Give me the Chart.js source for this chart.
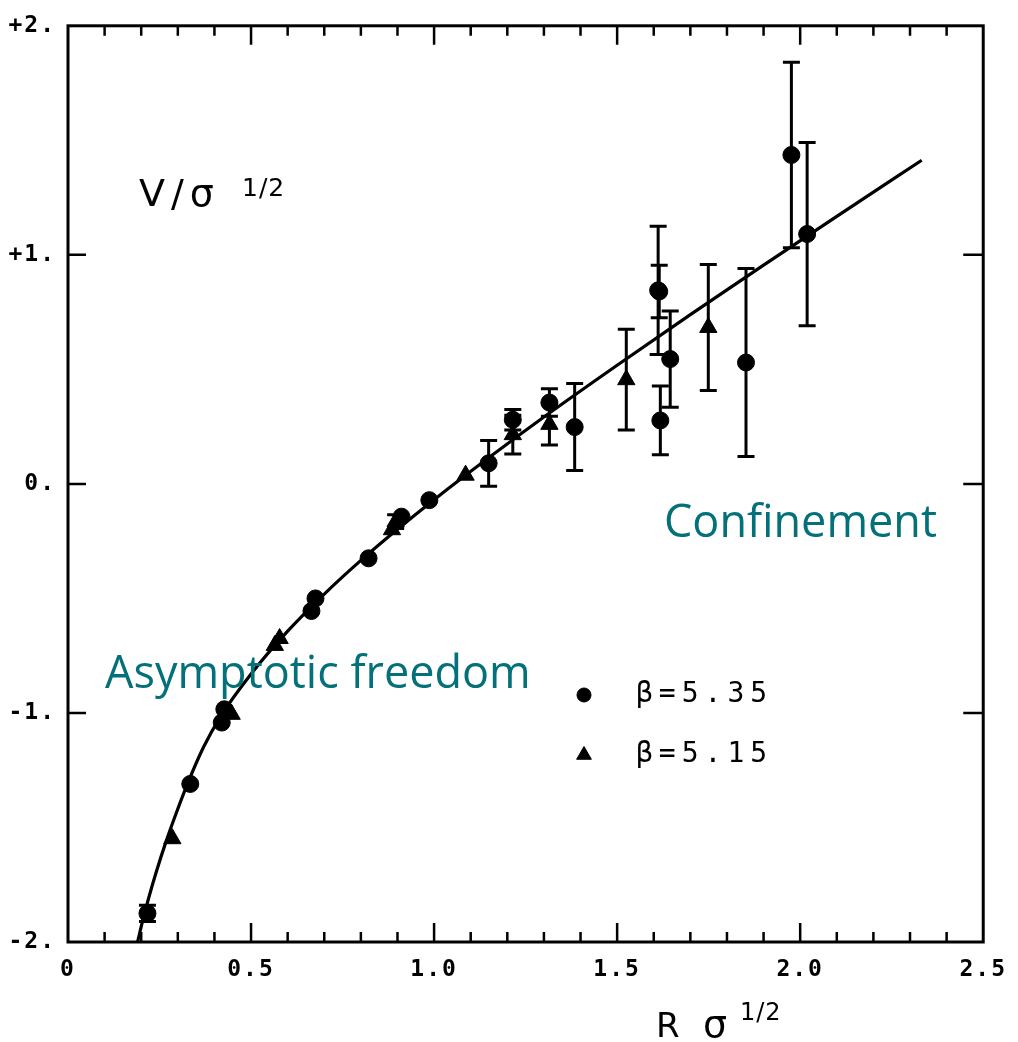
<!DOCTYPE html>
<html><head><meta charset="utf-8">
<script src="https://cdn.jsdelivr.net/npm/chart.js@4.4.1/dist/chart.umd.min.js"></script>
<style>html,body{margin:0;padding:0;background:#fff;overflow:hidden}canvas{display:block}</style>
</head><body>
<canvas id="c" width="1018" height="1042"></canvas>
<script>
// ---- data ----
const curveX = [0.19, 0.205, 0.22, 0.24, 0.267, 0.295, 0.325, 0.37, 0.415, 0.5, 0.6, 0.7, 0.8, 0.9, 1.0, 1.15, 1.3, 1.5, 1.7, 1.9, 2.1, 2.332];
const curveY = [-2.0, -1.90, -1.81, -1.70, -1.565, -1.44, -1.315, -1.15, -1.02, -0.83, -0.643, -0.481, -0.334, -0.198, -0.069, 0.115, 0.292, 0.518, 0.739, 0.955, 1.168, 1.413];

const beta535X   = [0.217, 0.334, 0.42, 0.427, 0.665, 0.676, 0.821, 0.911, 0.987, 1.149, 1.215, 1.315, 1.384, 1.612, 1.615, 1.618, 1.645, 1.852, 1.976, 2.019];
const beta535Y   = [-1.875, -1.31, -1.042, -0.984, -0.555, -0.50, -0.325, -0.143, -0.071, 0.09, 0.28, 0.355, 0.248, 0.845, 0.84, 0.277, 0.545, 0.53, 1.436, 1.091];
const beta535Err = [0.035, 0, 0, 0, 0, 0, 0, 0, 0, 0.10, 0.045, 0.06, 0.19, 0.28, 0.115, 0.15, 0.21, 0.41, 0.405, 0.40];

const beta515X   = [0.285, 0.447, 0.565, 0.578, 0.885, 0.895, 1.086, 1.215, 1.315, 1.525, 1.749];
const beta515Y   = [-1.549, -1.006, -0.705, -0.675, -0.20, -0.165, 0.038, 0.215, 0.26, 0.455, 0.683];
const beta515Err = [0, 0, 0, 0, 0, 0.03, 0, 0.085, 0.09, 0.22, 0.275];

const xTickValues = [0, 0.5, 1.0, 1.5, 2.0, 2.5];
const xTickLabels = ['0', '0.5', '1.0', '1.5', '2.0', '2.5'];
const yTickValues = [-2, -1, 0, 1, 2];
const yTickLabels = ['-2.', '-1.', '0.', '+1.', '+2.'];
const seriesLabels = ['\u03b2=5.35', '\u03b2=5.15'];

const toPts = (xs, ys) => xs.map((x, i) => ({x: x, y: ys[i]}));

// ---- plugins ----
const spacing = {
  id: 'spacing',
  beforeDraw(chart) { chart.ctx.letterSpacing = '2px'; },
  beforeDatasetsDraw(chart) { chart.ctx.letterSpacing = '0px'; }
};

const frame = {
  id: 'frame',
  beforeDatasetsDraw(chart) {
    const {ctx, chartArea: a, scales: {x, y}} = chart;
    ctx.save();
    ctx.strokeStyle = '#000';
    ctx.lineWidth = 3;
    ctx.lineCap = 'square';
    ctx.strokeRect(a.left, a.top, a.right - a.left, a.bottom - a.top);
    ctx.lineWidth = 2.5;
    ctx.lineCap = 'butt';
    ctx.beginPath();
    for (let k = 1; k < 25; k++) {
      const v = k / 10;
      const px = x.getPixelForValue(v);
      const len = (k % 5 === 0) ? 19 : 10;
      ctx.moveTo(px, a.bottom); ctx.lineTo(px, a.bottom - len);
      ctx.moveTo(px, a.top); ctx.lineTo(px, a.top + len);
    }
    for (let v = -1; v <= 1; v++) {
      const py = y.getPixelForValue(v);
      ctx.moveTo(a.left, py); ctx.lineTo(a.left + 18, py);
      ctx.moveTo(a.right, py); ctx.lineTo(a.right - 20, py);
    }
    ctx.stroke();
    ctx.restore();
  }
};

const errorBars = {
  id: 'errorBars',
  beforeDatasetsDraw(chart) {
    const {ctx, scales: {x, y}} = chart;
    ctx.save();
    ctx.strokeStyle = '#000';
    ctx.lineWidth = 3;
    chart.data.datasets.forEach(ds => {
      if (!ds.errors) return;
      ds.data.forEach((p, j) => {
        const e = ds.errors[j];
        if (!e) return;
        const px = x.getPixelForValue(p.x);
        const t = y.getPixelForValue(p.y + e);
        const b = y.getPixelForValue(p.y - e);
        ctx.beginPath();
        ctx.moveTo(px, t); ctx.lineTo(px, b);
        ctx.moveTo(px - 8.5, t); ctx.lineTo(px + 8.5, t);
        ctx.moveTo(px - 8.5, b); ctx.lineTo(px + 8.5, b);
        ctx.stroke();
      });
    });
    ctx.restore();
  }
};

const texts = {
  id: 'texts',
  afterDraw(chart) {
    const ctx = chart.ctx;
    ctx.save();
    ctx.fillStyle = '#000';
    ctx.textBaseline = 'alphabetic';
    ctx.textAlign = 'left';
    // y-axis title
    ctx.letterSpacing = '6px';
    ctx.font = '38px "DejaVu Sans"';
    ctx.fillText('V/\u03c3', 139, 206);
    ctx.letterSpacing = '1px';
    ctx.font = '25px "DejaVu Sans"';
    ctx.fillText('1/2', 242, 196);
    // x-axis title
    ctx.letterSpacing = '0px';
    ctx.font = '34px "DejaVu Sans"';
    ctx.fillText('R', 656, 1037);
    ctx.font = '38px "DejaVu Sans"';
    ctx.fillText('\u03c3', 703, 1037);
    ctx.letterSpacing = '1px';
    ctx.font = '24px "DejaVu Sans"';
    ctx.fillText('1/2', 740, 1020);
    // legend
    const items = [chart.data.datasets[1], chart.data.datasets[2]];
    const rows = [695, 755];
    items.forEach((ds, i) => {
      ctx.fillStyle = '#000';
      ctx.strokeStyle = '#000';
      Chart.helpers.drawPoint(ctx, {pointStyle: ds.pointStyle, radius: ds.pointStyle === 'triangle' ? 8.5 : 7, rotation: 0, borderWidth: 1}, 584, rows[i]);
    });
    ctx.fillStyle = '#000';
    ctx.letterSpacing = '6px';
    ctx.font = '28px "DejaVu Sans Mono"';
    ctx.textBaseline = 'middle';
    items.forEach((ds, i) => ctx.fillText(ds.label, 636, rows[i]));
    // annotations
    ctx.letterSpacing = '0px';
    ctx.textBaseline = 'alphabetic';
    ctx.fillStyle = '#04707a';
    ctx.font = '45px "Open Sans"';
    ctx.fillText('Asymptotic freedom', 105, 688);
    ctx.fillText('Confinement', 664, 537);
    ctx.restore();
  }
};

new Chart(document.getElementById('c'), {
  type: 'scatter',
  data: {
    datasets: [
      {
        label: 'fit',
        data: toPts(curveX, curveY),
        showLine: true,
        borderColor: '#000',
        borderWidth: 3.2,
        pointRadius: 0,
        cubicInterpolationMode: 'monotone',
        order: 10
      },
      {
        label: seriesLabels[0],
        data: toPts(beta535X, beta535Y),
        errors: beta535Err,
        pointStyle: 'circle',
        pointRadius: 8.5,
        pointBackgroundColor: '#000',
        pointBorderColor: '#000',
        pointBorderWidth: 1,
        order: 1
      },
      {
        label: seriesLabels[1],
        data: toPts(beta515X, beta515Y),
        errors: beta515Err,
        pointStyle: 'triangle',
        pointRadius: 10,
        pointBackgroundColor: '#000',
        pointBorderColor: '#000',
        pointBorderWidth: 1,
        order: 2
      }
    ]
  },
  options: {
    responsive: false,
    animation: false,
    devicePixelRatio: 1,
    layout: {padding: {top: 22, right: 26, left: 0, bottom: 0}},
    plugins: {legend: {display: false}, tooltip: {enabled: false}},
    scales: {
      x: {
        type: 'linear', min: 0, max: 2.5,
        afterFit(s) { s.height = 100; },
        afterBuildTicks(s) { s.ticks = xTickValues.map(v => ({value: v})); },
        ticks: {
          callback: (v, i) => xTickLabels[i],
          font: {family: 'DejaVu Sans Mono', weight: 'bold', size: 23},
          color: '#000', padding: 14, maxRotation: 0, autoSkip: false
        },
        grid: {display: false, drawTicks: false},
        border: {display: false}
      },
      y: {
        type: 'linear', min: -2, max: 2,
        afterFit(s) { s.width = 68; },
        afterBuildTicks(s) { s.ticks = yTickValues.map(v => ({value: v})); },
        ticks: {
          callback: (v, i) => yTickLabels[i],
          font: {family: 'DejaVu Sans Mono', weight: 'bold', size: 23},
          color: '#000', padding: 12, autoSkip: false
        },
        grid: {display: false, drawTicks: false},
        border: {display: false}
      }
    }
  },
  plugins: [spacing, frame, errorBars, texts]
});
</script>
</body></html>
